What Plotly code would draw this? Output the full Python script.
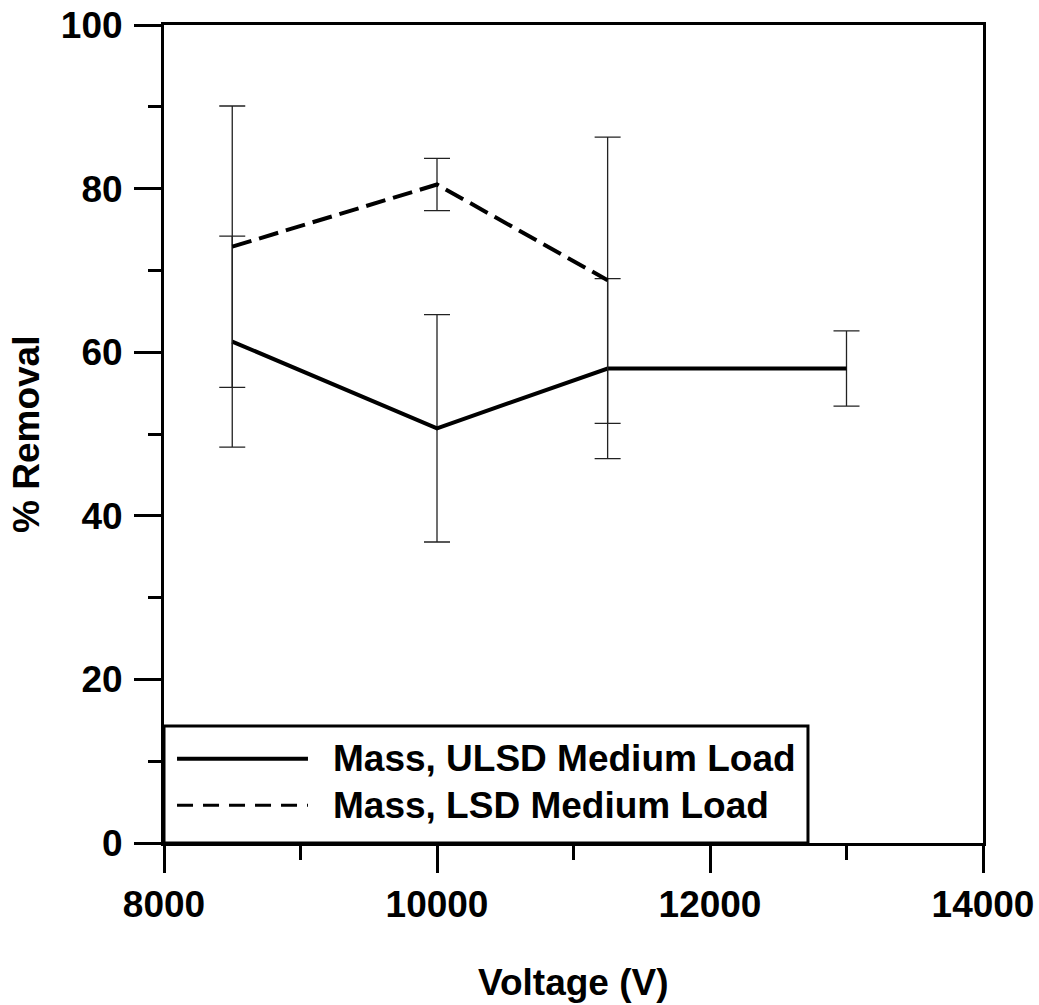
import plotly.graph_objects as go

# ---- data ----
ulsd_voltage = [8500, 10000, 11250, 13000]
ulsd_removal = [61.3, 50.7, 58.0, 58.0]
ulsd_err = [12.9, 13.9, 11.0, 4.6]

lsd_voltage = [8500, 10000, 11250]
lsd_removal = [72.9, 80.5, 68.8]
lsd_err = [17.2, 3.2, 17.5]

series_names = ["Mass, ULSD Medium Load", "Mass, LSD Medium Load"]
x_ticks = [8000, 10000, 12000, 14000]
y_ticks = [0, 20, 40, 60, 80, 100]

FONT = "Arial, Liberation Sans, Helvetica, sans-serif"
FS = 37

fig = go.Figure()
fig.add_trace(go.Scatter(
    x=ulsd_voltage, y=ulsd_removal, mode="lines", name=series_names[0],
    line=dict(color="black", width=4),
    error_y=dict(type="data", array=ulsd_err, visible=True, color="#222", thickness=1.3, width=13),
    showlegend=False,
))
fig.add_trace(go.Scatter(
    x=lsd_voltage, y=lsd_removal, mode="lines", name=series_names[1],
    line=dict(color="black", width=4, dash="20px,8px"),
    error_y=dict(type="data", array=lsd_err, visible=True, color="#222", thickness=1.3, width=13),
    showlegend=False,
))

axis_common = dict(
    showline=True, linecolor="black", linewidth=3, mirror=True,
    ticks="outside", tickcolor="black", tickwidth=3, ticklen=27,
    showgrid=False, zeroline=False, automargin=False,
    ticklabeloverflow="allow",
    tickfont=dict(family=FONT, size=FS, color="black", weight="bold"),
)
fig.update_xaxes(
    range=[8000, 14000], tickvals=x_ticks, ticktext=[str(v) for v in x_ticks],
    minor=dict(dtick=1000, ticks="outside", ticklen=14, tickwidth=3, tickcolor="black", showgrid=False),
    ticklabelstandoff=0,
    **axis_common,
)
fig.update_yaxes(
    range=[0, 100], tickvals=y_ticks, ticktext=[str(v) for v in y_ticks],
    minor=dict(dtick=10, ticks="outside", ticklen=13, tickwidth=3, tickcolor="black", showgrid=False),
    ticklabelstandoff=4,
    **axis_common,
)

# legend box drawn manually (long line samples like the original)
leg_y = [0.103, 0.046]
dashes = [None, "16px,10px"]
shapes = [dict(type="rect", xref="paper", yref="paper", x0=0, x1=0.7863, y0=0.0, y1=0.143,
               line=dict(color="black", width=3), fillcolor="white", layer="above")]
annotations = []
for name, yy, d in zip(series_names, leg_y, dashes):
    ln = dict(color="black", width=4)
    if d:
        ln = dict(color="black", width=3, dash=d)
    shapes.append(dict(type="line", xref="paper", yref="paper", x0=0.0159, x1=0.1758,
                       y0=yy, y1=yy, line=ln, layer="above"))
    annotations.append(dict(xref="paper", yref="paper", x=0.2039, y=yy, xanchor="left", yanchor="middle",
                            text=name, showarrow=False,
                            font=dict(family=FONT, size=FS, color="black", weight="bold")))

annotations.append(dict(xref="paper", yref="paper", x=0.5, y=-0.171, xanchor="center", yanchor="middle",
                        text="Voltage (V)", showarrow=False,
                        font=dict(family=FONT, size=FS, color="black", weight="bold")))
annotations.append(dict(xref="paper", yref="paper", x=-0.1685, y=0.5, xanchor="center", yanchor="middle",
                        text="% Removal", showarrow=False, textangle=-90,
                        font=dict(family=FONT, size=FS, color="black", weight="bold")))

fig.update_layout(
    width=1039, height=1005,
    margin=dict(l=164, r=56, t=25, b=162),
    paper_bgcolor="white", plot_bgcolor="white",
    shapes=shapes, annotations=annotations,
    showlegend=False,
)

# remove the default 8px page margin so the figure fills the window exactly
fig.write_html("out.html", config={"displayModeBar": False},
               post_script="document.body.style.margin='0';document.body.style.overflow='hidden';")
